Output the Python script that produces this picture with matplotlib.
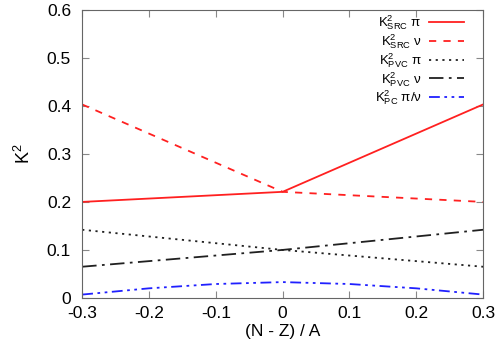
import numpy as np
import matplotlib.pyplot as plt

plt.rcParams['font.family'] = ['Liberation Sans', 'DejaVu Sans']
plt.rcParams['mathtext.fontset'] = 'custom'
plt.rcParams['mathtext.rm'] = 'Liberation Sans'
plt.rcParams['mathtext.it'] = 'Liberation Sans'

# asymmetry (N - Z)/A
x_lin = [-0.3, 0.0, 0.3]
src_pi = [0.200, 0.221, 0.403]
src_nu = [0.403, 0.221, 0.200]
pvc_pi = [0.142, 0.100, 0.065]
pvc_nu = [0.065, 0.100, 0.142]

x_pc = [-0.3, -0.2, -0.1, 0.0, 0.1, 0.2, 0.3]
pc = [0.007, 0.020, 0.029, 0.033, 0.029, 0.020, 0.007]

fig = plt.figure(figsize=(4.98, 3.53), dpi=100)
ax = fig.add_axes([0.165, 0.156, 0.805, 0.816])

ax.plot(x_lin, src_pi, color='#ff2020', lw=1.3, label=r'$\mathrm{K^2_{SRC}}$ π')
ax.plot(x_lin, src_nu, color='#ff2020', lw=1.3, dashes=(4, 4), label=r'$\mathrm{K^2_{SRC}}$ ν')
ax.plot(x_lin, pvc_pi, color='#202020', lw=1.3, dashes=(1.2, 2.5), label=r'$\mathrm{K^2_{PVC}}$ π')
ax.plot(x_lin, pvc_nu, color='#202020', lw=1.3, dashes=(8, 3, 1.5, 3), label=r'$\mathrm{K^2_{PVC}}$ ν')
ax.plot(x_pc, pc, color='#2020ff', lw=1.3, dashes=(6, 2.5, 1.5, 2.5, 1.5, 2.5), label=r'$\mathrm{K^2_{PC}}$ π/ν')

ax.set_xlim(-0.3, 0.3)
ax.set_ylim(0, 0.6)
ax.set_xticks(np.arange(-0.3, 0.31, 0.1))
ax.set_xticklabels(['-0.3', '-0.2', '-0.1', '0', '0.1', '0.2', '0.3'])
ax.set_yticks(np.arange(0, 0.61, 0.1))
ax.set_yticklabels(['0', '0.1', '0.2', '0.3', '0.4', '0.5', '0.6'])
ax.tick_params(axis='x', pad=6)
ax.tick_params(axis='y', pad=8)
ax.tick_params(direction='in', top=True, right=True, labelsize=12.5, length=5, color='#888888')
for s in ax.spines.values():
    s.set_color('#666666')
    s.set_linewidth(0.8)

ax.set_xlabel('(N - Z) / A', fontsize=12.5, labelpad=2)
ax.set_ylabel(r'$\mathrm{K^2}$', fontsize=13, labelpad=9)

ax.legend(loc='upper right', frameon=False, markerfirst=False, fontsize=9.5,
          handlelength=2.6, labelspacing=0.0, borderaxespad=0.0, handletextpad=0.6,
          bbox_to_anchor=(0.965, 1.005))

fig.savefig('out.png', dpi=100)
